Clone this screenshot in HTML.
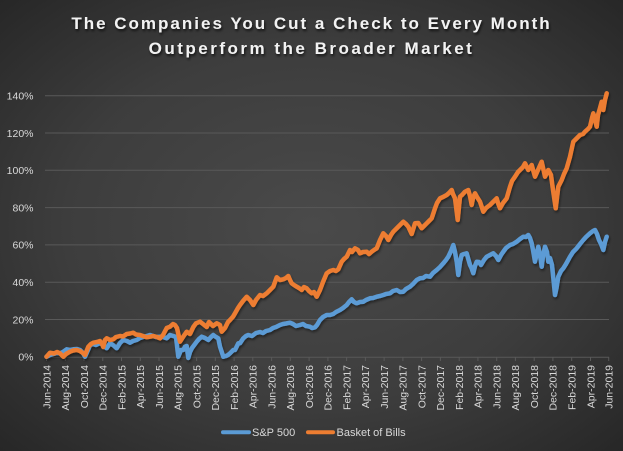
<!DOCTYPE html>
<html><head><meta charset="utf-8"><style>
html,body{margin:0;padding:0;width:623px;height:451px;overflow:hidden;background:#333;}
svg{display:block;}
text{font-family:"Liberation Sans",sans-serif;}
</style></head><body>
<svg width="623" height="451" viewBox="0 0 623 451" xmlns="http://www.w3.org/2000/svg">
<defs>
<radialGradient id="bg" cx="50%" cy="50%" r="72%">
<stop offset="0" stop-color="#4a4a4a"/>
<stop offset="0.55" stop-color="#3d3d3d"/>
<stop offset="1" stop-color="#262626"/>
</radialGradient>
<filter id="sh" x="-10%" y="-10%" width="120%" height="130%">
<feDropShadow dx="1" dy="2" stdDeviation="1.2" flood-color="#000" flood-opacity="0.45"/>
</filter>
<filter id="tsh" x="-5%" y="-20%" width="110%" height="150%">
<feDropShadow dx="1" dy="2" stdDeviation="1.2" flood-color="#000" flood-opacity="0.7"/>
</filter>
</defs>
<rect width="623" height="451" fill="url(#bg)"/>

<g filter="url(#tsh)" fill="#f2f2f2" font-weight="bold" font-size="17" text-anchor="middle">
<text x="311.5" y="29" letter-spacing="2">The Companies You Cut a Check to Every Month</text>
<text x="311.5" y="54" letter-spacing="2.5">Outperform the Broader Market</text>
</g>

<g stroke="#595959" stroke-width="1">
<line x1="45" y1="95.7" x2="609" y2="95.7"/>
<line x1="45" y1="133" x2="609" y2="133"/>
<line x1="45" y1="170.3" x2="609" y2="170.3"/>
<line x1="45" y1="207.6" x2="609" y2="207.6"/>
<line x1="45" y1="244.9" x2="609" y2="244.9"/>
<line x1="45" y1="282.2" x2="609" y2="282.2"/>
<line x1="45" y1="319.5" x2="609" y2="319.5"/>
<line x1="45" y1="357.2" x2="609" y2="357.2"/>
</g>
<g stroke="#595959" stroke-width="1">
<path d="M46.5 357v4M65.3 357v4M84 357v4M102.8 357v4M121.5 357v4M140.3 357v4M159 357v4M177.8 357v4M196.6 357v4M215.3 357v4M234.1 357v4M252.8 357v4M271.6 357v4M290.3 357v4M309.1 357v4M327.9 357v4M346.6 357v4M365.4 357v4M384.1 357v4M402.9 357v4M421.6 357v4M440.4 357v4M459.2 357v4M477.9 357v4M496.7 357v4M515.4 357v4M534.2 357v4M552.9 357v4M571.7 357v4M590.5 357v4M608.7 357v4"/>
</g>

<g fill="#d9d9d9" font-size="10.5" text-anchor="end">
<text x="33.5" y="99.5">140%</text>
<text x="33.5" y="136.8">120%</text>
<text x="33.5" y="174.1">100%</text>
<text x="33.5" y="211.4">80%</text>
<text x="33.5" y="248.7">60%</text>
<text x="33.5" y="286">40%</text>
<text x="33.5" y="323.3">20%</text>
<text x="33.5" y="360.6">0%</text>
</g>

<g fill="#d9d9d9" font-size="10.5" text-anchor="end">
<text transform="translate(50.3,365) rotate(-90)">Jun-2014</text>
<text transform="translate(69.1,365) rotate(-90)">Aug-2014</text>
<text transform="translate(87.8,365) rotate(-90)">Oct-2014</text>
<text transform="translate(106.6,365) rotate(-90)">Dec-2014</text>
<text transform="translate(125.3,365) rotate(-90)">Feb-2015</text>
<text transform="translate(144.1,365) rotate(-90)">Apr-2015</text>
<text transform="translate(162.8,365) rotate(-90)">Jun-2015</text>
<text transform="translate(181.6,365) rotate(-90)">Aug-2015</text>
<text transform="translate(200.4,365) rotate(-90)">Oct-2015</text>
<text transform="translate(219.1,365) rotate(-90)">Dec-2015</text>
<text transform="translate(237.9,365) rotate(-90)">Feb-2016</text>
<text transform="translate(256.6,365) rotate(-90)">Apr-2016</text>
<text transform="translate(275.4,365) rotate(-90)">Jun-2016</text>
<text transform="translate(294.1,365) rotate(-90)">Aug-2016</text>
<text transform="translate(312.9,365) rotate(-90)">Oct-2016</text>
<text transform="translate(331.7,365) rotate(-90)">Dec-2016</text>
<text transform="translate(350.4,365) rotate(-90)">Feb-2017</text>
<text transform="translate(369.2,365) rotate(-90)">Apr-2017</text>
<text transform="translate(387.9,365) rotate(-90)">Jun-2017</text>
<text transform="translate(406.7,365) rotate(-90)">Aug-2017</text>
<text transform="translate(425.4,365) rotate(-90)">Oct-2017</text>
<text transform="translate(444.2,365) rotate(-90)">Dec-2017</text>
<text transform="translate(463,365) rotate(-90)">Feb-2018</text>
<text transform="translate(481.7,365) rotate(-90)">Apr-2018</text>
<text transform="translate(500.5,365) rotate(-90)">Jun-2018</text>
<text transform="translate(519.2,365) rotate(-90)">Aug-2018</text>
<text transform="translate(538,365) rotate(-90)">Oct-2018</text>
<text transform="translate(556.7,365) rotate(-90)">Dec-2018</text>
<text transform="translate(575.5,365) rotate(-90)">Feb-2019</text>
<text transform="translate(594.3,365) rotate(-90)">Apr-2019</text>
<text transform="translate(612.5,365) rotate(-90)">Jun-2019</text>
</g>

<g fill="none" stroke-width="4.5" stroke-linejoin="round" stroke-linecap="round" filter="url(#sh)">
<polyline stroke="#5b9bd5" points="46.5,356.7 50,355 53.3,354 57,353 60,353.3 63,352 66.7,349.3 70,350 73.3,349.3 77,349 80,350 83,353 85,356.7 88,350 90,345 93,344 96,345 100,343 103,345 106.7,348.3 110,343.3 113,345 116.7,348.3 120,343 123.3,340 127,341 130,342.7 133,341 136.7,340 140,338 143,337 146.7,336 150,335 153,336 156,337 160,336.7 163,337 166.7,338.3 170,335 173.3,336 176,337 178.3,356.7 181,350 183.3,350 185,346.7 186.7,346 188.3,358 190,352 192,348 196.7,341.7 199,339 201.7,336.7 205,338 208.3,340 211,337 213.3,335 216,337 218.3,338.3 220,346.7 223.3,356.7 226,356 228,355 230,353.3 233.3,350 235,350 238.3,343.3 240,343.3 243.3,338.3 246,336 248.3,335 252,336 256,333 260,332 263,333 266,331 270,330 273,328 276,327 280,325 283,324 286,323.5 290,322.7 293,324 296,326 300,325 303,324 306,326 310,326.7 312,328 315,327.3 317,325 320,320 323,317 326.7,315 330,315 333.3,314 336,312 340,310 343,308 346.7,305 349,302 351.7,299.3 354,302 356.7,303.3 360,302 363.3,301.7 366,300 370,298.3 373,298 376.7,296.7 380,296 383.3,295 386,294 390,293.3 393,291 396.7,290 400,292 403.3,291.7 406,289 410,286.7 413,284 416.7,280 420,278.3 423,278 426,276 430,276.7 433,273 436.7,270 440,267 443.3,263.3 446,260 448.3,256.7 451,251 453.3,245 455,252 456.7,261.7 458.3,275 460,262 461.7,255 464,254 466.7,253.3 468,258 470,265 471.5,268 473.3,273.3 475,266 476.7,261.7 479,262 481,265 484,260 486.7,256.7 490,255 493.3,253.3 496,256 498.3,260 501,255 503.3,251.7 506,248 510,245 513,244 516.7,241.7 520,239 523.3,236.7 526,237 528.3,235 530,238 531.7,243.3 533,250 535,261.7 537,252 538.3,246.7 540,255 541.7,266.7 543,256 545,246.7 547,252 548.3,261.7 550,258 552,265 553.5,280 555,295 556.5,288 558.3,276.7 561,271 563.3,268.3 566,264 570,256.7 573,252 576.7,248.3 580,244 583.3,240 586,237 590,233.3 593,231 595,230 597,234 599,240 601,244 603.3,250 605,242 606.7,236.7"/>
<polyline stroke="#ed7d31" points="46.5,356.7 50,352.7 54,353.5 57,352 60,353.3 63.3,356.7 66,354 70,351.7 73,350.5 76.7,350 80,351 83.3,353.3 85,355 88.3,346.7 91,344 93.3,342.7 97,342 100,341 102,344 103.3,347 105,340 106.7,338.3 110,340 113.3,339.3 116,337 120,336 123,336.5 126.7,334 130,333.5 133.3,332.7 136,334.5 140,335 143,336 146.7,337.3 150,336.7 153.3,336 157,337 160,338.3 163,335 166.7,328 170,326.7 173,324 175,325 177,328 180,341.7 183,337 186.7,331.7 190,334 193.3,327 196,323.3 200,321.7 203,324 206.7,327 209,322 213,326 216.7,323.3 220,325 221.7,331.7 225,328 228,322 230,320 233,316.7 235,313.3 238,308 240,305 243,301 246.7,296.7 250,300 253.3,305 256,300 260,295 263,296 266.7,293.3 270,290 273.3,286.7 276.7,277.3 280,280 283.3,279.3 286,278 288.3,276 290,280 291.7,283.3 294,285 296.7,286.7 299,288 301.7,290 304,287 306.7,288.3 309,291 311.7,293.3 314,292 316.7,296.7 320,290 323,282 326.7,273.3 330,271 333.3,270 336,271 338.3,269.3 341.7,261.7 344,259 346.7,256.7 350,250 352,252 355,248.3 358,250 360,253.3 363,252 366.7,251.7 369,254 371.7,251.7 374,250 376.7,248.3 380,240 383.3,233.3 386,236 388.3,240 391,235 393.3,231.7 397,228 400,225 403.3,221.7 406,224 408.3,226.7 411.7,234 415,223.3 418.3,223 421.7,228.3 424,226 426.7,223.3 429,221 431.7,218.3 435,208.3 437,203 440,198.3 443,197 446.7,195 449,193 451.7,190 453,194 455,198.3 457.7,220 460,196.7 462,195 465,191.7 468.3,190 470,196 471.7,205 473,198 475,193.3 477,197 480,201.7 483.3,211.7 486,208 490,205 493,202 496.7,198.3 498,203 500,208.3 503,203 506.7,198.3 510,186.7 512,181 515,176.7 518,172 520,170 523,167 525,163.3 528.3,170 531.7,165 535,176.7 538,170 541.7,161.7 545,176.7 548.3,170 551,175 553,190 555.7,208.3 558.3,186.7 561.7,180 564,174 566.7,168.3 570,156.7 573.3,141.7 576,139 580,135 583,134 585,131.7 588,129 590,126.7 592,118 593.3,113.3 595,120 596.7,126.7 598,115 600,108 601.7,101.7 603.3,110 605,100 606.7,93.3"/>
</g>

<g stroke-width="4" stroke-linecap="round">
<line x1="223" y1="432.3" x2="249" y2="432.3" stroke="#5b9bd5"/>
<line x1="308" y1="432.3" x2="333" y2="432.3" stroke="#ed7d31"/>
</g>
<g fill="#d9d9d9" font-size="11">
<text x="252" y="436">S&amp;P 500</text>
<text x="336.5" y="436">Basket of Bills</text>
</g>
</svg>
</body></html>
